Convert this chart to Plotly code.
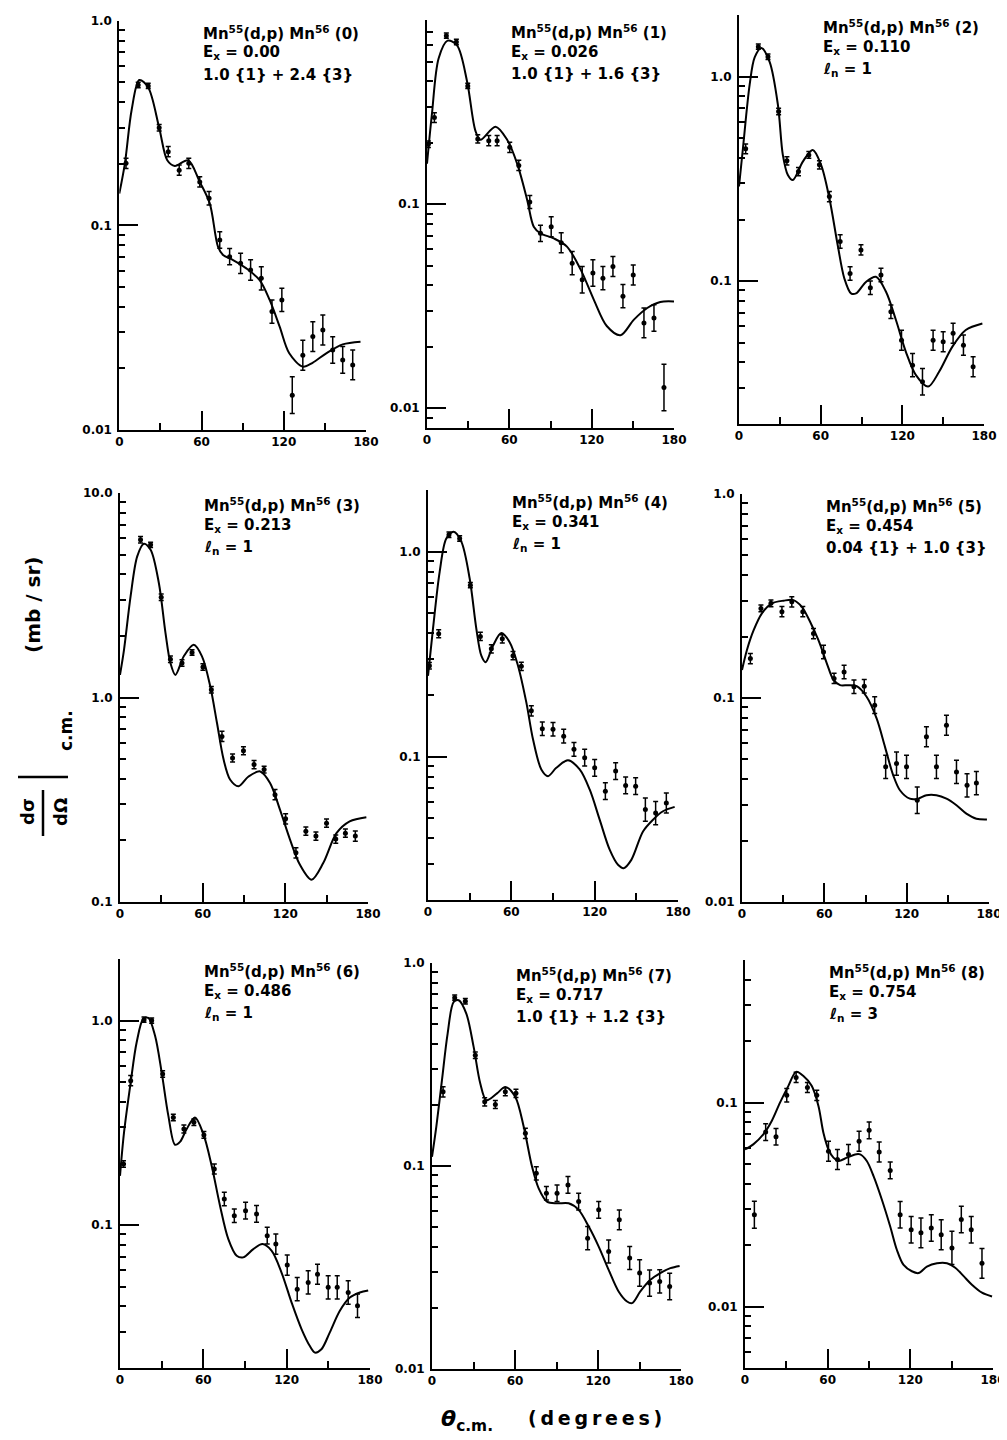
import numpy as np
import plotly.graph_objects as go

# ---------------- data ----------------
panel_labels = ["(0)", "(1)", "(2)", "(3)", "(4)", "(5)", "(6)", "(7)", "(8)"]
excitation = ["0.00", "0.026", "0.110", "0.213", "0.341", "0.454", "0.486", "0.717", "0.754"]
fit_labels = ["1.0 {1} + 2.4 {3}", "1.0 {1} + 1.6 {3}", "ℓ<sub>n</sub> = 1",
              "ℓ<sub>n</sub> = 1", "ℓ<sub>n</sub> = 1", "0.04 {1} + 1.0 {3}",
              "ℓ<sub>n</sub> = 1", "1.0 {1} + 1.2 {3}", "ℓ<sub>n</sub> = 3"]

x_tick_vals = [0, 60, 120, 180]
x_tick_text = ["0", "60", "120", "180"]
x_minor_vals = [30, 90, 150]

y_low = [0.01, 0.008, 0.02, 0.1, 0.02, 0.01, 0.02, 0.01, 0.005]
y_high = [1.0, 0.8, 2.0, 10.0, 2.0, 1.0, 2.0, 1.0, 0.5]

# measured points: angle (deg), dsigma/dOmega (mb/sr), error half-width (decades)
ang0 = [4.9, 13.8, 21.1, 29.1, 35.7, 43.7, 50.7, 58.7, 65.5, 73.3, 80.5, 88.5, 95.8, 103.6, 111.4, 118.6, 126.2, 133.9, 141.2, 148.5, 155.7, 163.0, 170.3]
val0 = [0.201, 0.485, 0.48, 0.30, 0.229, 0.186, 0.201, 0.163, 0.1355, 0.0848, 0.0703, 0.0652, 0.0605, 0.0551, 0.0379, 0.0432, 0.0148, 0.0232, 0.0286, 0.0308, 0.0246, 0.0220, 0.0208]
err0 = [.025, .013, .013, .016, .025, .025, .025, .025, .033, .04, .04, .05, .05, .057, .057, .057, .09, .073, .073, .073, .065, .065, .073]

ang1 = [1, 5.4, 14.1, 21.4, 29.7, 37, 45, 51.1, 60.3, 66.9, 74.9, 82.7, 90.5, 97.8, 105.8, 113.1, 120.9, 128.2, 135.5, 142.8, 150.3, 158.1, 165.4, 172.7]
val1 = [0.197, 0.266, 0.67, 0.624, 0.38, 0.209, 0.205, 0.205, 0.19, 0.155, 0.1026, 0.072, 0.0776, 0.0648, 0.0514, 0.0426, 0.046, 0.0434, 0.0495, 0.0354, 0.045, 0.0262, 0.0277, 0.01265]
err1 = [.016, .024, .013, .013, .013, .02, .025, .025, .025, .025, .032, .04, .049, .049, .057, .065, .065, .057, .049, .057, .049, .073, .065, .114]

ang2 = [4.9, 14.2, 21.3, 29.1, 35.2, 43.7, 51.3, 59.1, 66.4, 74.3, 81.6, 89.6, 96.5, 104.3, 111.6, 119.4, 127.5, 134.8, 142.6, 150, 157.3, 164.9, 172]
val2 = [0.443, 1.40, 1.25, 0.674, 0.387, 0.343, 0.414, 0.37, 0.259, 0.156, 0.109, 0.142, 0.0927, 0.107, 0.0708, 0.0514, 0.0388, 0.0322, 0.0514, 0.0505, 0.0555, 0.0486, 0.0381]
err2 = [.024, .013, .013, .016, .02, .02, .016, .02, .025, .033, .033, .025, .033, .033, .033, .049, .057, .065, .049, .049, .049, .049, .049]

ang3 = [14.9, 22.2, 29.9, 36.6, 45, 52.3, 60.2, 66.3, 74, 81.7, 89.6, 97.3, 104.6, 112.5, 120.2, 127.7, 134.9, 142.2, 149.9, 156.6, 163.6, 170.8]
val3 = [5.91, 5.58, 3.09, 1.54, 1.475, 1.66, 1.41, 1.09, 0.645, 0.506, 0.549, 0.47, 0.444, 0.335, 0.255, 0.174, 0.222, 0.21, 0.243, 0.203, 0.217, 0.21]
err3 = [.016, .013, .016, .016, .016, .013, .016, .016, .025, .02, .02, .02, .016, .025, .025, .025, .02, .02, .02, .02, .02, .025]

ang4 = [1, 7.7, 15.1, 22.8, 30.5, 37.7, 45.6, 53.5, 61.2, 67.2, 74.4, 82.3, 90, 97.7, 105.1, 112.8, 120, 127.7, 135.1, 142.3, 149.5, 156.5, 163.9, 171.6]
val4 = [0.278, 0.398, 1.21, 1.16, 0.687, 0.386, 0.336, 0.376, 0.311, 0.276, 0.1675, 0.137, 0.136, 0.126, 0.1086, 0.0989, 0.0883, 0.0679, 0.0851, 0.0724, 0.0718, 0.0552, 0.0531, 0.0595]
err4 = [.016, .02, .013, .013, .013, .02, .02, .02, .02, .02, .025, .033, .033, .033, .033, .041, .041, .041, .041, .041, .041, .057, .057, .049]

ang5 = [6.1, 13.8, 21.1, 29.1, 36.3, 44.3, 52.1, 59.4, 67.1, 74.4, 81.6, 89.1, 96.7, 104.7, 112.6, 119.9, 127.7, 134.4, 141.7, 149, 156.3, 164, 170.8]
val5 = [0.156, 0.275, 0.291, 0.265, 0.296, 0.265, 0.207, 0.168, 0.1247, 0.134, 0.1135, 0.1143, 0.0922, 0.046, 0.0477, 0.046, 0.0315, 0.0645, 0.046, 0.0736, 0.0434, 0.0373, 0.0383]
err5 = [.025, .016, .016, .025, .025, .025, .025, .033, .025, .033, .033, .033, .041, .057, .057, .057, .065, .049, .057, .049, .057, .057, .057]

ang6 = [2.5, 7.7, 17.3, 22.8, 30.7, 38.4, 46, 53.2, 60.4, 67.9, 75.1, 82.3, 90.4, 98.3, 106, 112.2, 120.4, 127.6, 135.5, 142.2, 149.9, 156.4, 164.3, 171]
val6 = [0.199, 0.508, 1.01, 1.0, 0.548, 0.336, 0.295, 0.318, 0.276, 0.188, 0.134, 0.111, 0.1175, 0.1133, 0.0887, 0.0807, 0.0637, 0.0486, 0.0524, 0.0575, 0.0496, 0.0496, 0.0468, 0.0403]
err6 = [.016, .025, .013, .013, .016, .016, .02, .016, .016, .025, .033, .033, .041, .041, .041, .049, .049, .057, .057, .049, .057, .057, .057, .057]

ang7 = [8, 16.4, 24.1, 31.3, 38.1, 45.8, 53, 60.7, 67.5, 75.4, 82.7, 90.4, 98.3, 106, 112.5, 120.5, 127.7, 135.4, 142.9, 150.1, 157.3, 164.6, 171.8]
val7 = [0.232, 0.675, 0.648, 0.351, 0.207, 0.201, 0.232, 0.228, 0.1448, 0.092, 0.0734, 0.0734, 0.0807, 0.0668, 0.0441, 0.0608, 0.0379, 0.0543, 0.0352, 0.0297, 0.0265, 0.027, 0.0255]
err7 = [.025, .013, .013, .016, .02, .02, .02, .02, .025, .033, .033, .041, .041, .041, .057, .041, .057, .049, .057, .065, .065, .057, .065]

ang8 = [6.8, 15, 22.5, 30.3, 37.1, 45.3, 52.1, 60.6, 67.1, 75.1, 82.8, 90.1, 97.4, 105.4, 112.6, 120.6, 127.7, 135.2, 142.4, 150.2, 157, 164.2, 172]
val8 = [0.0282, 0.0717, 0.068, 0.1086, 0.1328, 0.1186, 0.1086, 0.0578, 0.0526, 0.0557, 0.0647, 0.0731, 0.0572, 0.0465, 0.0282, 0.0238, 0.023, 0.0243, 0.0225, 0.0194, 0.0267, 0.0238, 0.0163]
err8 = [.066, .041, .041, .033, .025, .025, .025, .049, .049, .049, .049, .041, .049, .041, .065, .065, .073, .065, .073, .082, .065, .065, .073]

# DWBA theory curves: angle (deg), value (mb/sr)
cang0 = [0, 4.1, 9, 14.6, 21.1, 29.1, 35, 40.5, 50.2, 58.7, 66, 72, 75.7, 83, 92.7, 102.4, 109.7, 117, 124, 133.9, 141, 151, 163, 176]
cval0 = [0.143, 0.201, 0.366, 0.513, 0.472, 0.30, 0.208, 0.195, 0.208, 0.163, 0.128, 0.0787, 0.0716, 0.0677, 0.0616, 0.054, 0.0432, 0.032, 0.0237, 0.0204, 0.0213, 0.0237, 0.0262, 0.027]

cang1 = [0, 3.6, 8.5, 15, 21.9, 29.2, 35.3, 38.9, 49.9, 58.4, 65.7, 73, 77.8, 82.7, 92.4, 102, 112, 121.6, 131, 141, 150.8, 160.5, 170, 180]
cval1 = [0.158, 0.277, 0.52, 0.634, 0.60, 0.40, 0.229, 0.207, 0.24, 0.207, 0.158, 0.105, 0.0776, 0.072, 0.068, 0.062, 0.0478, 0.034, 0.0253, 0.0228, 0.0272, 0.031, 0.0332, 0.0334]

cang2 = [0, 2.9, 7.8, 11.5, 16.4, 22.5, 28.6, 32.2, 35.9, 39.6, 46.9, 54.2, 60.3, 66.4, 72.5, 77.4, 82.3, 86, 93.3, 100.6, 108, 115.3, 122.6, 130, 139, 147, 156.8, 166.6, 178.8]
cval2 = [0.29, 0.446, 0.91, 1.24, 1.38, 1.18, 0.726, 0.414, 0.33, 0.312, 0.384, 0.437, 0.37, 0.254, 0.15, 0.103, 0.087, 0.087, 0.099, 0.105, 0.0887, 0.0645, 0.0451, 0.0347, 0.0305, 0.036, 0.0478, 0.0576, 0.062]

cang3 = [0, 2.9, 7.7, 12.5, 17.3, 22.2, 28.2, 33, 36.6, 40.2, 46.3, 53.5, 59.5, 65.5, 70.4, 75.2, 80, 86, 93.3, 101.7, 108.9, 116.1, 123.4, 130.6, 139, 147.5, 157.1, 166.7, 178.8]
cval3 = [1.29, 1.71, 3.13, 4.9, 5.65, 5.28, 3.63, 2.07, 1.475, 1.29, 1.59, 1.81, 1.59, 1.135, 0.75, 0.497, 0.396, 0.368, 0.411, 0.435, 0.382, 0.283, 0.202, 0.152, 0.1285, 0.155, 0.217, 0.248, 0.26]

cang4 = [0, 3.6, 8.4, 13.2, 18.5, 24, 30, 34.8, 38.4, 41.5, 46.8, 52.8, 58.8, 64.8, 70.8, 75.6, 81.6, 86.4, 92.4, 100.8, 109.2, 116.4, 123.6, 130.8, 136.8, 140.9, 146.4, 154.8, 162, 169.2, 177.6]
cval4 = [0.248, 0.421, 0.798, 1.16, 1.25, 1.12, 0.74, 0.421, 0.311, 0.289, 0.348, 0.401, 0.362, 0.278, 0.184, 0.1216, 0.0867, 0.0804, 0.0883, 0.096, 0.0867, 0.0692, 0.0493, 0.0352, 0.0297, 0.0286, 0.0314, 0.0432, 0.0493, 0.0542, 0.0569]

cang5 = [0, 3.6, 8.5, 14.5, 21.8, 30.3, 37.5, 43.6, 49.7, 55.7, 61.8, 66.6, 71.5, 77.5, 83.6, 90.8, 98.1, 104.2, 110.2, 115.1, 122.3, 128.4, 134.4, 141.7, 149, 156.3, 163.5, 170.8, 178.5]
cval5 = [0.137, 0.172, 0.215, 0.26, 0.291, 0.30, 0.302, 0.28, 0.236, 0.192, 0.148, 0.123, 0.1156, 0.1156, 0.1143, 0.1014, 0.0794, 0.0576, 0.0418, 0.0353, 0.0321, 0.0321, 0.0334, 0.0334, 0.0321, 0.0298, 0.0271, 0.0256, 0.0254]

cang6 = [0, 2.9, 7.7, 12, 16.8, 20.4, 25.2, 30, 34.8, 39.6, 43.2, 48, 54, 60, 66, 72, 78, 84, 88.7, 96, 102.6, 109.1, 116.3, 123.5, 130.7, 136.7, 140.3, 145, 151, 158.3, 165.5, 172.7, 178.7]
cval6 = [0.174, 0.284, 0.499, 0.783, 1.02, 1.03, 0.845, 0.558, 0.343, 0.247, 0.255, 0.295, 0.336, 0.279, 0.195, 0.1244, 0.0854, 0.0708, 0.0695, 0.0763, 0.0807, 0.0749, 0.0586, 0.0419, 0.031, 0.0256, 0.0238, 0.0247, 0.0298, 0.0381, 0.0442, 0.0468, 0.0479]

cang7 = [0, 3.1, 7.2, 11.3, 15.7, 19.3, 24.8, 30.1, 34.9, 39.3, 47, 53, 60.2, 66.3, 72.3, 77.1, 83.1, 90.4, 98.8, 106, 113.3, 120.5, 127.7, 134.9, 141, 144.6, 150.6, 157.8, 165, 172.3, 179]
cval7 = [0.111, 0.156, 0.265, 0.449, 0.643, 0.655, 0.563, 0.386, 0.255, 0.211, 0.228, 0.245, 0.219, 0.156, 0.0993, 0.0776, 0.0668, 0.0655, 0.0655, 0.0608, 0.0503, 0.0401, 0.0308, 0.0241, 0.0215, 0.0211, 0.0241, 0.0275, 0.0297, 0.0314, 0.0322]

cang8 = [0, 6, 13.3, 19.4, 25.4, 31.5, 37.1, 42.4, 48.4, 53.3, 56.9, 60.6, 64.2, 67.8, 73.9, 79.9, 83.6, 88.4, 93.3, 99.3, 105.4, 110.2, 115.1, 121.1, 126, 132, 139.3, 146.6, 152.6, 158.7, 164.7, 172, 179.3]
cval8 = [0.0589, 0.0624, 0.0699, 0.0813, 0.1, 0.1208, 0.1415, 0.135, 0.1208, 0.0963, 0.0712, 0.0589, 0.0537, 0.0517, 0.0537, 0.0557, 0.0557, 0.0517, 0.0436, 0.0335, 0.0247, 0.019, 0.016, 0.0149, 0.0146, 0.0157, 0.0163, 0.0163, 0.0155, 0.0141, 0.0128, 0.0117, 0.0112]

angles = [ang0, ang1, ang2, ang3, ang4, ang5, ang6, ang7, ang8]
values = [val0, val1, val2, val3, val4, val5, val6, val7, val8]
errors = [err0, err1, err2, err3, err4, err5, err6, err7, err8]
c_angles = [cang0, cang1, cang2, cang3, cang4, cang5, cang6, cang7, cang8]
c_values = [cval0, cval1, cval2, cval3, cval4, cval5, cval6, cval7, cval8]

# ---------------- layout geometry (pixels of the 1007x1440 page) ----------------
OFF = 8                      # default body margin of the html page
W, H = 1007 - OFF, 1440 - OFF
PX0 = [119.3, 427, 739, 120, 428, 742, 120, 432, 745]
PX1 = [366, 674, 984, 368, 678, 989, 370, 681, 993]
PY0 = [20.7, 20, 15, 493, 490, 494, 959, 963, 960]
PY1 = [430, 428, 424, 902, 900, 902, 1368, 1369, 1368]


def fx(p):
    return (p - OFF) / W


def fy(p):
    return 1 - (p - OFF) / H


FONT = "DejaVu Sans"
INK = "black"


def fmt_decade(v):
    if v >= 10:
        return "10.0"
    if v >= 1:
        return "1.0"
    if v >= 0.1:
        return "0.1"
    return "0.01"


fig = go.Figure()
annotations = []
shapes = []

for i in range(9):
    sfx = "" if i == 0 else str(i + 1)
    xa, ya = "x" + sfx, "y" + sfx
    ym = "y" + str(10 + i)          # overlay axis carrying the minor log ticks
    y = np.array(values[i], dtype=float)
    e = np.array(errors[i], dtype=float)
    fig.add_trace(go.Scatter(
        x=c_angles[i], y=c_values[i], mode="lines",
        line=dict(color=INK, width=2, shape="spline", smoothing=0.9),
        xaxis=xa, yaxis=ya, showlegend=False, hoverinfo="skip"))
    fig.add_trace(go.Scatter(
        x=angles[i], y=values[i], mode="markers",
        marker=dict(color=INK, size=5, symbol="circle"),
        error_y=dict(type="data", symmetric=False,
                     array=y * (10 ** e - 1), arrayminus=y * (1 - 10 ** (-e)),
                     color=INK, thickness=1.5, width=2.5),
        xaxis=xa, yaxis=ya, showlegend=False, cliponaxis=False))
    fig.add_trace(go.Scatter(x=[], y=[], mode="markers", xaxis=xa, yaxis=ym,
                             showlegend=False, hoverinfo="skip"))

    lo, hi = y_low[i], y_high[i]
    majors = [10.0 ** k for k in range(-3, 2) if lo * 0.999 <= 10.0 ** k <= hi * 1.001]
    minors = [m * 10.0 ** k for k in range(-3, 2) for m in range(2, 10)
              if lo * 0.999 <= m * 10.0 ** k <= hi * 1.001]

    xd = [fx(PX0[i]), fx(PX1[i])]
    yd = [fy(PY1[i]), fy(PY0[i])]
    yr = [np.log10(lo), np.log10(hi)]
    fig.layout["xaxis" + sfx] = dict(
        domain=xd, anchor=ya, range=[0, 180], showline=True, linecolor=INK, linewidth=2,
        ticks="inside", ticklen=19, tickwidth=2, tickcolor=INK,
        tickmode="array", tickvals=x_tick_vals, ticktext=x_tick_text,
        minor=dict(tickmode="array", tickvals=x_minor_vals, ticks="inside",
                   ticklen=7, tickwidth=2, tickcolor=INK, showgrid=False),
        showgrid=False, zeroline=False, automargin=False,
        tickfont=dict(family=FONT, size=12, color=INK, weight="bold"))
    fig.layout["yaxis" + sfx] = dict(
        domain=yd, anchor=xa, type="log", range=yr,
        showline=True, linecolor=INK, linewidth=2,
        ticks="inside", ticklen=19, tickwidth=2, tickcolor=INK,
        tickmode="array", tickvals=majors, ticktext=[fmt_decade(v) for v in majors],
        showgrid=False, zeroline=False, automargin=False, ticklabelstandoff=3,
        tickfont=dict(family=FONT, size=12, color=INK, weight="bold"))
    fig.layout["yaxis" + str(10 + i)] = dict(
        overlaying=ya, anchor=xa, side="left", type="log", range=yr,
        showline=False, ticks="inside", ticklen=6, tickwidth=2, tickcolor=INK,
        tickmode="array", tickvals=minors, showticklabels=False,
        showgrid=False, zeroline=False, automargin=False)

    lines = [f"<b>Mn<sup>55</sup>(d,p) Mn<sup>56</sup> {panel_labels[i]}</b>",
             f"<b>E<sub>x</sub> = {excitation[i]}</b>",
             f"<b>{fit_labels[i]}</b>"]
    offs = [12, 32, 54]
    for t, dy in zip(lines, offs):
        annotations.append(dict(
            text=t, xref="paper", yref="paper",
            x=fx(PX0[i] + 82), y=fy(PY0[i] + dy),
            xanchor="left", yanchor="middle", showarrow=False,
            font=dict(family=FONT, size=15, color=INK)))

# global axis titles
rot = dict(xref="paper", yref="paper", showarrow=False, textangle=-90,
           xanchor="center", yanchor="middle")
annotations.append(dict(text="<b>dσ</b>", x=fx(27), y=fy(812),
                        font=dict(family=FONT, size=18, color=INK), **rot))
annotations.append(dict(text="<b>dΩ</b>", x=fx(60), y=fy(812),
                        font=dict(family=FONT, size=18, color=INK), **rot))
annotations.append(dict(text="<b>c.m.</b>", x=fx(66), y=fy(731),
                        font=dict(family=FONT, size=17, color=INK), **rot))
annotations.append(dict(text="<b>(mb / sr)</b>", x=fx(33), y=fy(605),
                        font=dict(family=FONT, size=20, color=INK), **rot))
shapes.append(dict(type="line", xref="paper", yref="paper",
                   x0=fx(43), x1=fx(43), y0=fy(790), y1=fy(836),
                   line=dict(color=INK, width=2.5)))
shapes.append(dict(type="line", xref="paper", yref="paper",
                   x0=fx(18), x1=fx(68), y0=fy(777), y1=fy(777),
                   line=dict(color=INK, width=2.5)))

annotations.append(dict(text="<b><i>θ</i></b><b><sub>c.m.</sub></b>", xref="paper", yref="paper",
                        x=fx(467), y=fy(1420), xanchor="center", yanchor="middle",
                        showarrow=False, font=dict(family=FONT, size=22, color=INK)))
annotations.append(dict(text="<b>(\u2009d\u2009e\u2009g\u2009r\u2009e\u2009e\u2009s\u2009)</b>",
                        xref="paper", yref="paper",
                        x=fx(595), y=fy(1418), xanchor="center", yanchor="middle",
                        showarrow=False, font=dict(family=FONT, size=19, color=INK)))

fig.update_layout(width=W, height=H, margin=dict(l=0, r=0, t=0, b=0, autoexpand=False),
                  paper_bgcolor="white", plot_bgcolor="white",
                  annotations=annotations, shapes=shapes, showlegend=False)

fig.write_html("out.html")
